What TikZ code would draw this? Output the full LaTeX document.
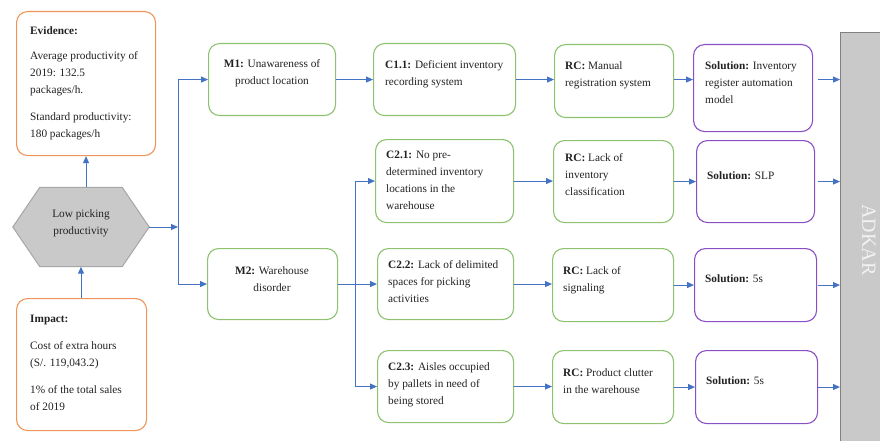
\documentclass[tikz,border=0pt]{standalone}
\usepackage{fontspec}
\setmainfont{Liberation Serif}
\usepackage{tikz}
\usetikzlibrary{arrows.meta,positioning,backgrounds}
\definecolor{ink}{HTML}{222222}
\definecolor{flow}{HTML}{4472C4}
\definecolor{evid}{HTML}{F0955A}
\definecolor{cause}{HTML}{8DC26F}
\definecolor{solv}{HTML}{8A4FC4}
\definecolor{hexfill}{HTML}{C9C9C9}
\definecolor{hexline}{HTML}{A6A6A6}
\definecolor{adkline}{HTML}{808080}

\begin{document}
\begin{tikzpicture}[
  x=1pt,y=-1pt,
  box/.style={rounded corners=11pt,line width=1.1pt,fill=white,anchor=north west,inner sep=0pt},
  obox/.style={box,draw=evid},
  gbox/.style={box,draw=cause},
  pbox/.style={box,draw=solv},
  txt/.style={anchor=north west,inner sep=0pt,align=left,text=ink,font=\fontsize{11.3}{17}\selectfont},
  ctxt/.style={txt,anchor=north,align=center},
  arr/.style={-{Triangle[length=7pt,width=6pt]},line width=1pt,draw=flow}
]
\useasboundingbox (0,0) rectangle (880,441);
% evidence, problem, impact
\node[obox,minimum width=139,minimum height=144] (ev) at (16,11) {};
\node[obox,minimum width=130,minimum height=132] (imp) at (16,298) {};
\node[minimum width=136,minimum height=79,inner sep=0pt] (low) at (81,227) {};
\begin{scope}[on background layer]
\draw[fill=hexfill,draw=hexline,line width=1pt] (low.west) -- ([xshift=27pt]low.north west) -- ([xshift=-27pt]low.north east)
  -- (low.east) -- ([xshift=-27pt]low.south east) -- ([xshift=27pt]low.south west) -- cycle;
\end{scope}
\node[txt] (evt) at (30,26) {\textbf{Evidence:}\\[8pt]Average productivity of\\2019: 132.5\\packages/h.\\[10pt]Standard productivity:\\180 packages/h};
\node[txt] (impt) at (30,315) {\textbf{Impact:}\\[10pt]Cost of extra hours\\(S/. 119,043.2)\\[10pt]1\% of the total sales\\of 2019};
\node[ctxt] (lowt) at (81,209) {Low picking\\productivity};
% main causes
\node[gbox,minimum width=127,minimum height=72] (m1) at (208,43) {};
\node[gbox,minimum width=130,minimum height=71] (m2) at (207,248) {};
\node[ctxt] (m1t) at (272,59) {\textbf{M1:} Unawareness of\\product location};
\node[ctxt] (m2t) at (272,266) {\textbf{M2:} Warehouse\\disorder};
% causes
\node[gbox,minimum width=142,minimum height=72] (c11) at (373,43) {};
\node[gbox,minimum width=138,minimum height=83] (c21) at (375,139) {};
\node[gbox,minimum width=136,minimum height=71] (c22) at (377,248) {};
\node[gbox,minimum width=136,minimum height=72] (c23) at (377,350) {};
\node[txt] (c11t) at (385,60) {\textbf{C1.1:} Deficient inventory\\recording system};
\node[txt] (c21t) at (386,151) {\textbf{C2.1:} No pre-\\determined inventory\\locations in the\\warehouse};
\node[txt] (c22t) at (388,260) {\textbf{C2.2:} Lack of delimited\\spaces for picking\\activities};
\node[txt] (c23t) at (388,362) {\textbf{C2.3:} Aisles occupied\\by pallets in need of\\being stored};
% root causes
\node[gbox,minimum width=119,minimum height=73] (rc1) at (554,44) {};
\node[gbox,minimum width=120,minimum height=82] (rc2) at (553,140) {};
\node[gbox,minimum width=121,minimum height=73] (rc3) at (552,248) {};
\node[gbox,minimum width=121,minimum height=73] (rc4) at (552,350) {};
\node[txt] (rc1t) at (565,61) {\textbf{RC:} Manual\\registration system};
\node[txt] (rc2t) at (565,153) {\textbf{RC:} Lack of\\inventory\\classification};
\node[txt] (rc3t) at (563,266) {\textbf{RC:} Lack of\\signaling};
\node[txt] (rc4t) at (563,368) {\textbf{RC:} Product clutter\\in the warehouse};
% solutions
\node[pbox,minimum width=119,minimum height=87] (sol1) at (693,44) {};
\node[pbox,minimum width=118,minimum height=82] (sol2) at (696,140) {};
\node[pbox,minimum width=122,minimum height=73] (sol3) at (694,248) {};
\node[pbox,minimum width=122,minimum height=73] (sol4) at (695,350) {};
\node[txt] (sol1t) at (705,61) {\textbf{Solution:} Inventory\\register automation\\model};
\node[txt] (sol2t) at (707,171) {\textbf{Solution:} SLP};
\node[txt] (sol3t) at (705,274) {\textbf{Solution:} 5s};
\node[txt] (sol4t) at (706,376) {\textbf{Solution:} 5s};
% ADKAR bar
\node[draw=adkline,fill=hexfill,line width=1.2pt,anchor=north west,minimum width=50,minimum height=420] (adkar) at (840,32) {};
\node[rotate=-90,text=white!95!black,font=\fontsize{20}{20}\selectfont] (adkart) at (869,240) {ADKAR};
% connectors
\coordinate (j1) at (178,227);
\coordinate (j2) at (355,283.5);
\draw[arr] (ev.south |- low.north) -- (ev.south);
\draw[arr] (imp.north -| low.south) -- (low.south);
\draw[arr] (low.east) -- (j1);
\draw[arr] (j1) |- (m1.west);
\draw[arr] (j1) |- (m2.west);
\draw[arr] (m1.east) -- (c11.west);
\draw[arr] (m2.east) -- (c22.west);
\draw[arr] (j2) |- (c21.west);
\draw[arr] (j2) |- (c23.west);
\draw[arr] (c11.east |- m1.east) -- (m1.east -| rc1.west);
\draw[arr] (c21.east) -- (c21.east -| rc2.west);
\draw[arr] (c22.east) -- (c22.east -| rc3.west);
\draw[arr] (c23.east) -- (c23.east -| rc4.west);
\draw[arr] (rc1.east |- m1.east) -- (m1.east -| sol1.west);
\draw[arr] (rc2.east) -- (rc2.east -| sol2.west);
\draw[arr] (rc3.east) -- (rc3.east -| sol3.west);
\draw[arr] (rc4.east) -- (rc4.east -| sol4.west);
\draw[arr] ([xshift=5pt]m1.east -| sol1.east) -- (m1.east -| adkar.west);
\draw[arr] ([xshift=3pt]rc2.east -| sol2.east) -- (rc2.east -| adkar.west);
\draw[arr] ([xshift=1pt]rc3.east -| sol3.east) -- (rc3.east -| adkar.west);
\draw[arr] (rc4.east -| sol4.east) -- (rc4.east -| adkar.west);
\end{tikzpicture}
\end{document}
